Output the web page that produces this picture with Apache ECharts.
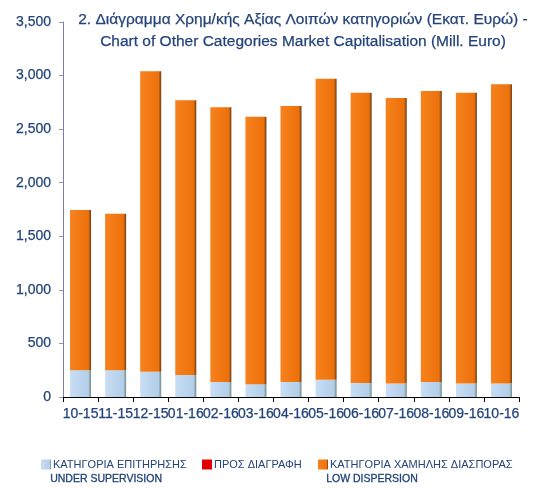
<!DOCTYPE html>
<html>
<head>
<meta charset="utf-8">
<title>Market Capitalisation</title>
<script src="https://cdn.jsdelivr.net/npm/echarts@6/dist/echarts.min.js"></script>
<style>
  body { margin: 0; background: #fff; }
  #main { width: 534px; height: 488px; }
</style>
</head>
<body>
<div id="main"></div>
<script>
var months = ['10-15', '11-15', '12-15', '01-16', '02-16', '03-16', '04-16',
              '05-16', '06-16', '07-16', '08-16', '09-16', '10-16'];
// under supervision (bottom part)
var supervision = [250, 250, 235, 205, 140, 120, 140, 160, 130, 125, 140, 125, 125];
// to be deleted
var deletion = [0, 0, 0, 0, 0, 0, 0, 0, 0, 0, 0, 0, 0];
// low dispersion (top part)
var lowDispersion = [1495, 1460, 2805, 2565, 2565, 2495, 2575, 2810, 2710, 2665, 2715, 2715, 2795];

var navy = '#23437A';
var font = '"Liberation Sans", Arial, sans-serif';

function sideGrad(c1, c2, edge) {
    return {
        type: 'linear', x: 0, y: 0, x2: 1, y2: 0,
        colorStops: [
            { offset: 0, color: c1 },
            { offset: 0.8, color: c2 },
            { offset: 0.87, color: c2 },
            { offset: 1, color: edge }
        ]
    };
}

// a little stroke to get the semi-bold look of the original
var heavy = { textBorderColor: navy, textBorderWidth: 0.25 };

var myChart = echarts.init(document.getElementById('main'));

var option = {
    animation: false,
    textStyle: { fontFamily: font },
    title: {
        text: '2. Διάγραμμα Χρημ/κής Αξίας Λοιπών κατηγοριών (Εκατ. Ευρώ) -\nChart of Other Categories Market Capitalisation (Mill. Euro)',
        left: 298,
        top: 4,
        textAlign: 'center',
        textStyle: Object.assign({ color: navy, fontSize: 15.5, fontWeight: 'normal', lineHeight: 22, fontFamily: font }, heavy)
    },
    legend: [{
        left: 36, top: 454, itemWidth: 10, itemHeight: 10, itemGap: 4,
        icon: 'rect',
        data: ['ΚΑΤΗΓΟΡΙΑ ΕΠΙΤΗΡΗΣΗΣ'],
        textStyle: { color: navy, fontSize: 11, padding: [0, 0, 0, -3] }
    }, {
        left: 197, top: 454, itemWidth: 10, itemHeight: 10,
        icon: 'rect',
        data: ['ΠΡΟΣ ΔΙΑΓΡΑΦΗ'],
        textStyle: { color: navy, fontSize: 11, padding: [0, 0, 0, -3] }
    }, {
        left: 313, top: 454, itemWidth: 10, itemHeight: 10,
        icon: 'rect',
        data: ['ΚΑΤΗΓΟΡΙΑ ΧΑΜΗΛΗΣ ΔΙΑΣΠΟΡΑΣ'],
        textStyle: { color: navy, fontSize: 11, padding: [0, 0, 0, -3] }
    }],
    graphic: [{
        type: 'text', left: 50, top: 473,
        style: { text: 'UNDER SUPERVISION', fill: navy, font: '10.5px ' + font, stroke: navy, lineWidth: 0.3 }
    }, {
        type: 'text', left: 326, top: 473,
        style: { text: 'LOW DISPERSION', fill: navy, font: '10.5px ' + font, stroke: navy, lineWidth: 0.3 }
    }],
    grid: { left: 63, right: 15, top: 22, bottom: 91 },
    xAxis: {
        type: 'category',
        data: months,
        axisLine: { lineStyle: { color: '#000', width: 1 } },
        axisTick: { show: true, length: 5, lineStyle: { color: '#000' } },
        axisLabel: Object.assign({ interval: 0, color: navy, fontSize: 14, margin: 10 }, heavy)
    },
    yAxis: {
        type: 'value',
        min: 0, max: 3500, interval: 500,
        axisLine: { show: true, lineStyle: { color: '#7B7BB8' } },
        axisTick: { show: true, length: 4, lineStyle: { color: '#999' } },
        splitLine: { show: false },
        axisLabel: Object.assign({
            color: navy, fontSize: 14, margin: 12,
            formatter: function (v) { return v.toLocaleString('en-US'); }
        }, heavy)
    },
    series: [{
        name: 'ΚΑΤΗΓΟΡΙΑ ΕΠΙΤΗΡΗΣΗΣ',
        type: 'bar', stack: 'total', barWidth: 21,
        data: supervision,
        itemStyle: { color: sideGrad('#C8DEF4', '#B4CFEA', '#6E8A80') }
    }, {
        name: 'ΠΡΟΣ ΔΙΑΓΡΑΦΗ',
        type: 'bar', stack: 'total', barWidth: 21,
        data: deletion,
        itemStyle: { color: '#E00000' }
    }, {
        name: 'ΚΑΤΗΓΟΡΙΑ ΧΑΜΗΛΗΣ ΔΙΑΣΠΟΡΑΣ',
        type: 'bar', stack: 'total', barWidth: 21,
        data: lowDispersion,
        itemStyle: { color: sideGrad('#F6821E', '#EE720C', '#6A3A14') }
    }]
};

myChart.setOption(option);
</script>
</body>
</html>
